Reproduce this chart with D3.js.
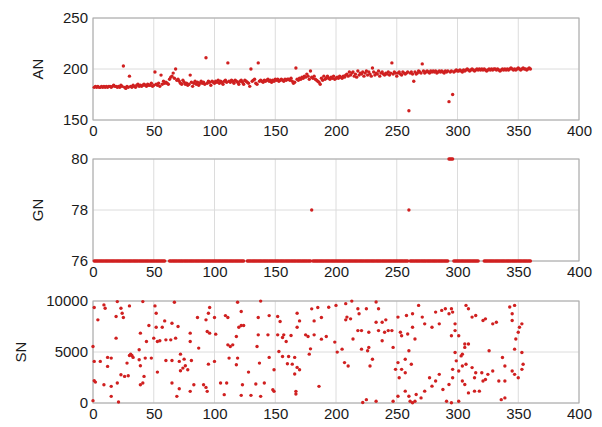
<!DOCTYPE html>
<html>
<head>
<meta charset="utf-8">
<script src="https://cdn.jsdelivr.net/npm/d3@7"></script>
<style>
  html, body { margin: 0; padding: 0; background: #ffffff; }
  svg { display: block; }
  .tick-label { font-family: "Liberation Sans", Arial, Helvetica, sans-serif; font-size: 15px; fill: #1a1a1a; }
  .axis-title { font-family: "Liberation Sans", Arial, Helvetica, sans-serif; font-size: 15px; fill: #1a1a1a; }
</style>
</head>
<body>
<svg id="chart" width="602" height="427"></svg>
<script>
// Sample index shared by all three series (1..360)
const xTicks = [0, 50, 100, 150, 200, 250, 300, 350, 400];

// AN per sample, index 1..360
const anValues = [
  182,183,182,183,182,182,183,182,183,182,
  183,182,183,183,182,183,184,183,183,182,
  183,182,184,183,203,182,181,183,182,193,
  183,182,184,183,182,184,185,183,184,183,
  184,185,184,183,185,184,184,186,183,184,
  197,185,184,186,183,194,185,188,186,187,
  186,185,190,192,193,196,191,200,189,190,
  188,186,185,189,187,185,186,184,185,194,
  187,183,186,188,185,187,184,186,188,186,
  187,185,211,186,188,187,184,188,187,186,
  188,187,189,186,188,187,185,188,189,187,
  206,188,187,189,188,186,189,188,187,185,
  188,189,187,185,189,188,187,186,183,200,
  188,189,190,186,185,206,188,189,188,187,
  189,188,189,190,188,189,187,189,188,190,
  189,190,188,189,190,189,188,190,189,190,
  190,189,191,188,186,187,201,190,189,191,
  190,192,191,193,192,195,193,190,198,192,
  191,193,190,189,188,187,185,191,189,193,
  190,191,193,191,190,192,191,193,190,191,
  192,191,193,192,191,193,192,194,195,193,
  197,194,196,197,193,195,192,198,194,196,
  195,197,193,196,198,194,197,195,193,201,
  197,194,196,195,198,193,196,197,195,194,
  196,195,197,194,196,206,195,197,196,193,
  196,197,195,194,197,196,195,196,197,159,
  196,197,195,188,197,195,196,198,197,196,
  205,198,196,197,198,197,196,198,197,198,
  197,198,196,197,198,197,198,197,196,198,
  197,198,168,197,198,175,197,198,199,198,
  198,199,198,197,199,198,199,200,199,198,
  199,200,199,198,199,200,199,200,199,200,
  199,200,199,198,199,200,199,200,199,200,
  200,199,200,199,198,199,200,199,200,199,
  200,199,200,201,200,199,200,199,200,201,
  200,199,200,201,200,200,199,200,201,200
];

// GN per sample, index 1..360 (null = no reading)
const gnValues = [
  76,76,76,76,76,76,76,76,76,76,
  76,76,76,76,76,76,76,76,76,76,
  76,76,76,76,76,76,76,76,76,76,
  76,76,76,76,76,76,76,76,76,76,
  76,76,76,76,76,76,76,76,76,76,
  76,76,76,76,76,76,76,76,76,null,
  null,null,76,76,76,76,76,76,76,76,
  76,76,76,76,76,76,76,76,76,76,
  76,76,76,76,76,76,76,76,76,76,
  76,76,76,76,76,76,76,76,76,76,
  76,76,76,76,76,76,76,76,76,76,
  76,76,76,76,76,76,76,76,76,76,
  76,76,76,76,null,null,76,76,76,76,
  76,76,76,76,76,76,76,76,76,76,
  76,76,76,76,76,76,76,76,76,76,
  76,76,76,76,76,76,76,76,76,76,
  76,76,76,76,76,76,76,76,76,76,
  76,76,76,76,76,76,76,76,76,78,
  76,76,76,76,76,76,76,76,76,76,
  76,76,76,76,76,76,76,76,76,76,
  76,76,76,76,76,76,76,76,76,76,
  76,76,76,76,76,76,76,76,76,76,
  76,76,76,76,76,76,76,76,76,76,
  76,76,76,76,76,76,76,76,76,76,
  76,76,76,76,76,76,76,76,76,76,
  76,76,76,76,76,76,76,76,76,78,
  76,76,76,76,76,76,76,76,76,76,
  76,76,76,76,76,76,76,76,76,76,
  76,76,76,76,76,76,76,76,76,76,
  76,76,80,80,80,80,76,76,76,76,
  76,76,76,76,76,76,76,76,76,76,
  76,76,76,76,76,76,76,null,null,null,
  null,76,76,76,76,76,76,76,76,76,
  76,76,76,76,76,76,76,76,76,76,
  76,76,76,76,76,76,76,76,76,76,
  76,76,76,76,76,76,76,76,76,76
];

// SN scattered readings: sample index and value
const snX = [
  1,9,10,20,23,24,30,4,19,25,41,51,67,52,59,65,70,46,52,57,
  39,44,50,53,55,60,64,68,19,0,86,93,100,96,95,109,111,119,122,138,
  136,145,152,154,170,168,168,180,185,194,188,182,122,124,120,80,94,96,101,136,
  144,152,156,157,163,159,175,177,182,188,192,199,201,80,87,111,113,115,118,135,
  1,6,12,15,12,30,31,32,33,28,38,39,43,48,38,60,65,72,75,71,
  76,74,78,72,81,95,100,112,119,118,128,137,145,153,156,161,166,164,168,170,
  166,178,179,160,149,1,2,9,15,20,23,26,29,42,41,39,53,65,71,80,
  83,91,93,94,105,110,123,134,141,148,149,108,122,130,138,167,167,186,15,0,
  21,69,
  200,208,213,218,219,225,235,233,209,208,212,218,221,214,227,235,240,243,233,238,
  241,246,238,227,228,210,207,205,221,230,226,247,251,254,249,252,257,262,257,260,
  265,259,263,254,253,251,258,263,268,271,273,279,285,282,290,295,293,287,296,298,
  298,301,295,296,301,304,299,303,306,309,306,304,298,312,315,314,307,296,293,288,
  285,282,277,273,270,265,266,260,257,251,263,261,225,222,233,247,279,291,295,301,
  307,309,312,315,321,323,326,329,332,337,339,339,343,345,347,345,347,348,350,351,
  353,353,354,353,350,347,339,323,320,314,318,309,321,325,306,304,334,329,336,345
];
const snY = [
  9360,9620,9290,9940,9290,8800,9520,8150,8480,8380,9940,9520,9880,8800,8050,7820,7500,7600,7430,7430,
  6850,6030,6360,6030,6100,6190,6190,6360,6360,5540,8380,8150,8380,9360,8800,8570,8380,9880,8970,9990,
  8380,8570,8480,7990,8050,8800,7430,9230,9360,9390,8380,8050,7600,7600,7430,6850,7010,6850,6750,6680,
  6680,6680,6420,6680,6620,6030,6680,6520,6680,6260,6520,5970,4990,6030,5380,5700,5540,5700,6520,5540,
  4080,4080,4470,4400,3590,4660,4790,4660,4470,3910,4240,3650,4400,4400,5220,4170,4170,4790,4300,4080,
  3650,3420,3260,3160,4170,3810,4080,4400,4400,3750,3030,3910,4470,5050,4560,4560,4470,3810,3490,3260,
  2840,4790,5310,3850,3260,2180,2050,1790,1630,1960,2770,2610,2670,2610,1960,1790,3030,1960,1400,1140,
  1790,1790,1530,1140,1960,1960,1790,1860,1960,1300,1140,820,750,750,650,1140,880,1630,650,230,
  100,650,
  9570,9740,9990,9240,8750,9240,9240,9900,8420,8150,8250,7100,7100,6270,6930,7100,6930,7100,7920,7920,
  8150,7100,6100,5450,3630,3630,3960,5280,5280,4290,5120,5450,3960,3300,3300,2480,2970,3800,4290,5120,
  6270,6770,7430,6600,6930,8420,8580,8750,9570,8420,7760,7430,7760,8910,9240,9240,8750,9080,8910,7760,
  7100,6600,6600,3300,3140,3630,4130,4620,5780,5780,5450,4790,4950,3470,2970,2480,3800,2480,1820,1320,
  2810,2150,2480,1160,500,170,830,660,1160,660,30,170,330,50,170,170,1650,170,20,170,
  9570,9240,8420,8580,8090,8250,5120,7760,7920,4460,3630,500,9410,8750,9570,8090,5280,6270,6930,7430,
  7760,4950,3800,3300,2480,2810,2150,2310,2970,1160,1160,990,2150,2810,1820,2150,2150,3140,330,3140
];

// Panel layout and per-panel y settings
const plotLeft = 93, plotRight = 579, plotHeight = 102;
const panelTops = [18, 159, 301];
const yDomains = [[150, 250], [76, 80], [0, 10000]];
const yTicks = [[150, 200, 250], [76, 78, 80], [0, 5000, 10000]];
const yTitles = ["AN", "GN", "SN"];
const yTitleX = [43, 43, 26];

const anPoints = anValues.map((v, i) => ({ x: i + 1, y: v })).filter(d => d.y != null);
const gnPoints = gnValues.map((v, i) => ({ x: i + 1, y: v })).filter(d => d.y != null);
const snPoints = snX.map((x, i) => ({ x: x, y: snY[i] }));
const panelData = [anPoints, gnPoints, snPoints];

const svg = d3.select("#chart");
const x = d3.scaleLinear().domain([0, 400]).range([plotLeft, plotRight]);
const intFormat = d3.format("d");

panelData.forEach((points, p) => {
  const top = panelTops[p], bottom = top + plotHeight;
  const y = d3.scaleLinear().domain(yDomains[p]).range([bottom, top]);
  const g = svg.append("g");

  // grid
  g.append("g").selectAll("line").data(xTicks).join("line")
    .attr("x1", d => x(d)).attr("x2", d => x(d))
    .attr("y1", top).attr("y2", bottom)
    .attr("stroke", "#dcdcdc").attr("stroke-width", 1);
  g.append("g").selectAll("line").data(yTicks[p]).join("line")
    .attr("x1", plotLeft).attr("x2", plotRight)
    .attr("y1", d => y(d)).attr("y2", d => y(d))
    .attr("stroke", "#dcdcdc").attr("stroke-width", 1);

  // frame
  g.append("rect")
    .attr("x", plotLeft).attr("y", top)
    .attr("width", plotRight - plotLeft).attr("height", plotHeight)
    .attr("fill", "none").attr("stroke", "#a8a8a8").attr("stroke-width", 1);

  // x axis labels
  const xAxis = d3.axisBottom(x).tickValues(xTicks).tickFormat(intFormat).tickSize(0).tickPadding(5);
  const xa = g.append("g").attr("transform", `translate(0,${bottom})`).call(xAxis);
  xa.select(".domain").remove();
  xa.selectAll("text").attr("class", "tick-label").attr("fill", null).attr("dy", "0.72em");

  // y axis labels
  const yAxis = d3.axisLeft(y).tickValues(yTicks[p]).tickFormat(intFormat).tickSize(0).tickPadding(5);
  const ya = g.append("g").attr("transform", `translate(${plotLeft},0)`).call(yAxis);
  ya.select(".domain").remove();
  ya.selectAll("text").attr("class", "tick-label").attr("fill", null);

  // y title
  g.append("text").attr("class", "axis-title")
    .attr("transform", `translate(${yTitleX[p]},${(top + bottom) / 2}) rotate(-90)`)
    .attr("text-anchor", "middle")
    .text(yTitles[p]);

  // points
  g.append("g").selectAll("circle").data(points).join("circle")
    .attr("cx", d => x(d.x)).attr("cy", d => y(d.y))
    .attr("r", 1.7)
    .attr("fill", "#d02020");
});
</script>
</body>
</html>
